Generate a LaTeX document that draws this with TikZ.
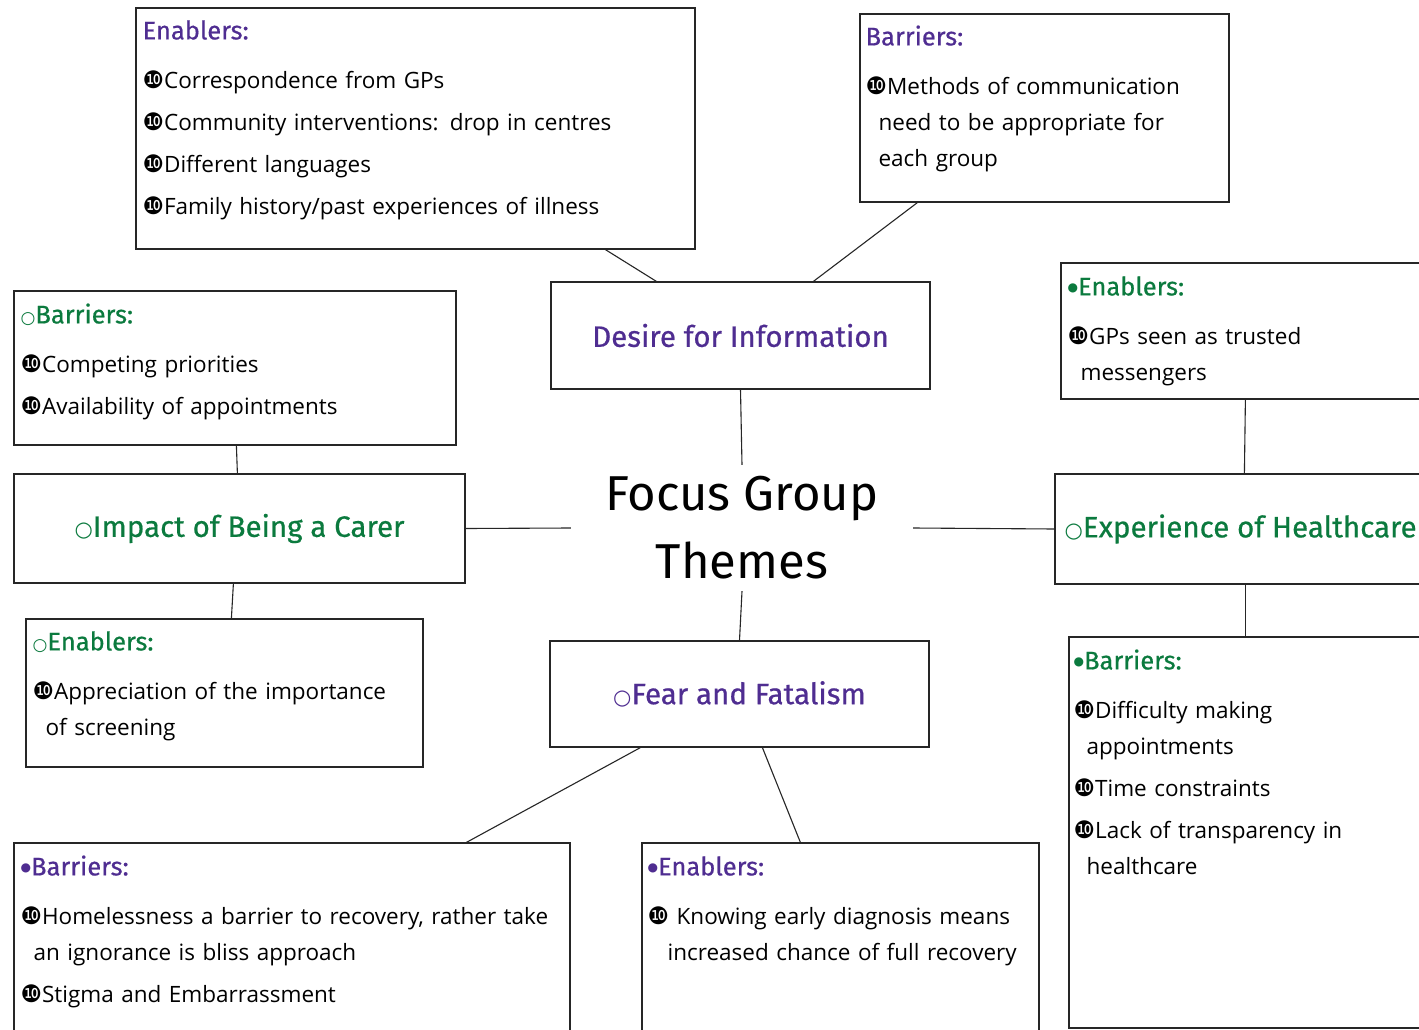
\documentclass[tikz,border=0pt]{standalone}
\usepackage{fontspec}
\setmainfont{Open Sans}
\newfontfamily\headfont{Fira Sans}[FakeBold=0.6]
\newfontfamily\titlefont{Fira Sans}
\newfontfamily\symfont{DejaVu Sans}
\usetikzlibrary{calc}
\definecolor{themepurple}{HTML}{4F2D91}
\definecolor{themegreen}{HTML}{0B7A3E}
\newcommand{\tenb}{{\symfont\fontsize{24}{24}\selectfont ❿}}
\newcommand{\hollowb}{{\symfont\fontsize{21}{21}\selectfont ○}}
\newcommand{\hollows}{{\symfont\fontsize{17}{17}\selectfont ○}}
\newcommand{\dotb}{\raisebox{4pt}{\symfont\fontsize{12}{12}\selectfont ●}}
\newcommand{\ind}{\hspace*{13pt}}
\newcommand{\hd}[2]{{\headfont\fontsize{25.5}{36}\selectfont\color{#1}#2}}
\begin{document}
\begin{tikzpicture}[x=1pt,y=-1pt,
  frame/.style={draw=black!85, line width=1.2pt, inner sep=0pt, fill=white},
  link/.style={draw=black!85, line width=1.1pt},
  txt/.style={anchor=base west, inner sep=0pt, text width=#1, align=left,
              font=\fontsize{22.5}{36}\selectfont},
  theme/.style={font=\headfont\fontsize{29.5}{34}\selectfont, inner sep=0pt}]
\useasboundingbox (0,0) rectangle (1419,1030);
\clip (0,0) rectangle (1419,1030);
\fill[white] (0,0) rectangle (1419,1030);

% central label
\node[inner sep=0pt, minimum width=342pt, minimum height=126pt] (fgt) at (742,528) {};
\node[font=\titlefont\fontsize{49}{68}\selectfont, align=center, inner sep=0pt] (fgtlabel) at (fgt.center) {Focus Group\\Themes};

% theme boxes
\node[frame, minimum width=379pt, minimum height=107pt] (desire) at (740.5,335.5) {};
\node[theme, text=themepurple] (desirelabel) at (desire.center) {Desire for Information};
\node[frame, minimum width=451pt, minimum height=109pt] (carer) at (239.5,528.5) {};
\node[theme, text=themegreen] (carerlabel) at (carer.center) {\hollowb Impact of Being a Carer};
\node[frame, minimum width=385pt, minimum height=110pt] (exp) at (1247.5,529) {};
\node[theme, text=themegreen, anchor=west] (explabel) at ([xshift=10pt]exp.west) {\hollowb Experience of Healthcare};
\node[frame, minimum width=379pt, minimum height=106pt] (fear) at (739.5,694) {};
\node[theme, text=themepurple] (fearlabel) at (fear.center) {\hollowb Fear and Fatalism};

% detail boxes
\node[frame, minimum width=559pt, minimum height=241pt] (de) at (415.5,128.5) {};
\node[frame, minimum width=369pt, minimum height=188pt] (db) at (1044.5,108) {};
\node[frame, minimum width=379pt, minimum height=136pt] (ee) at (1250.5,331) {};
\node[frame, minimum width=442pt, minimum height=154pt] (cb) at (235,368) {};
\node[frame, minimum width=397pt, minimum height=148pt] (ce) at (224.5,693) {};
\node[frame, minimum width=371pt, minimum height=391pt] (eb) at (1254.5,832.5) {};
\node[frame, minimum width=556pt, minimum height=207pt] (fb) at (292,946.5) {};
\node[frame, minimum width=397pt, minimum height=207pt] (fe) at (840.5,946.5) {};

% connectors
\draw[link] (desire.south) -- (fgt.north);
\draw[link] (carer.east) -- (fgt.west);
\draw[link] (fgt.east) -- (exp.west);
\draw[link] (fgt.south) -- (fear.north);
\draw[link] ([xshift=470pt]de.south west) -- ([xshift=106pt]desire.north west);
\draw[link] ([xshift=58pt]db.south west) -- ([xshift=263pt]desire.north west);
\draw[link] ([xshift=185pt]ee.south west) -- ([xshift=190pt]exp.north west);
\draw[link] ([xshift=191pt]exp.south west) -- ([xshift=177pt]eb.north west);
\draw[link] ([xshift=223pt]cb.south west) -- ([xshift=224pt]carer.north west);
\draw[link] ([xshift=220pt]carer.south west) -- ([xshift=206pt]ce.north west);
\draw[link] ([xshift=91pt]fear.south west) -- ([xshift=453pt]fb.north west);
\draw[link] ([xshift=213pt]fear.south west) -- ([xshift=159pt]fe.north west);

% box contents
\node[txt=540pt] (detext) at ([xshift=7pt,yshift=-32pt]de.north west) {%
  \hd{themepurple}{Enablers:}\\[13pt]
  \tenb Correspondence from GPs\\[6pt]
  \tenb Community interventions: drop in centres\\[6pt]
  \tenb Different languages\\[6pt]
  \tenb Family history/past experiences of illness};
\node[txt=355pt] (dbtext) at ([xshift=6pt,yshift=-32pt]db.north west) {%
  \hd{themepurple}{Barriers:}\\[13pt]
  \tenb Methods of communication\\
  \ind need to be appropriate for\\
  \ind each group};
\node[txt=360pt] (eetext) at ([xshift=7pt,yshift=-33pt]ee.north west) {%
  \hd{themegreen}{\dotb Enablers:}\\[13pt]
  \tenb GPs seen as trusted\\
  \ind messengers};
\node[txt=430pt] (cbtext) at ([xshift=7pt,yshift=-33pt]cb.north west) {%
  \hd{themegreen}{\hollows Barriers:}\\[13pt]
  \tenb Competing priorities\\[6pt]
  \tenb Availability of appointments};
\node[txt=385pt] (cetext) at ([xshift=7pt,yshift=-32pt]ce.north west) {%
  \hd{themegreen}{\hollows Enablers:}\\[13pt]
  \tenb Appreciation of the importance\\
  \ind of screening};
\node[txt=360pt] (ebtext) at ([xshift=5pt,yshift=-33pt]eb.north west) {%
  \hd{themegreen}{\dotb Barriers:}\\[13pt]
  \tenb Difficulty making\\
  \ind appointments\\[6pt]
  \tenb Time constraints\\[6pt]
  \tenb Lack of transparency in\\
  \ind healthcare};
\node[txt=545pt] (fbtext) at ([xshift=7pt,yshift=-33pt]fb.north west) {%
  \hd{themepurple}{\dotb Barriers:}\\[13pt]
  \tenb Homelessness a barrier to recovery, rather take\\
  \ind an ignorance is bliss approach\\[6pt]
  \tenb Stigma and Embarrassment};
\node[txt=390pt] (fetext) at ([xshift=6pt,yshift=-33pt]fe.north west) {%
  \hd{themepurple}{\dotb Enablers:}\\[13pt]
  \tenb\ Knowing early diagnosis means\\
  \hspace*{20pt}increased chance of full recovery};
\end{tikzpicture}
\end{document}
